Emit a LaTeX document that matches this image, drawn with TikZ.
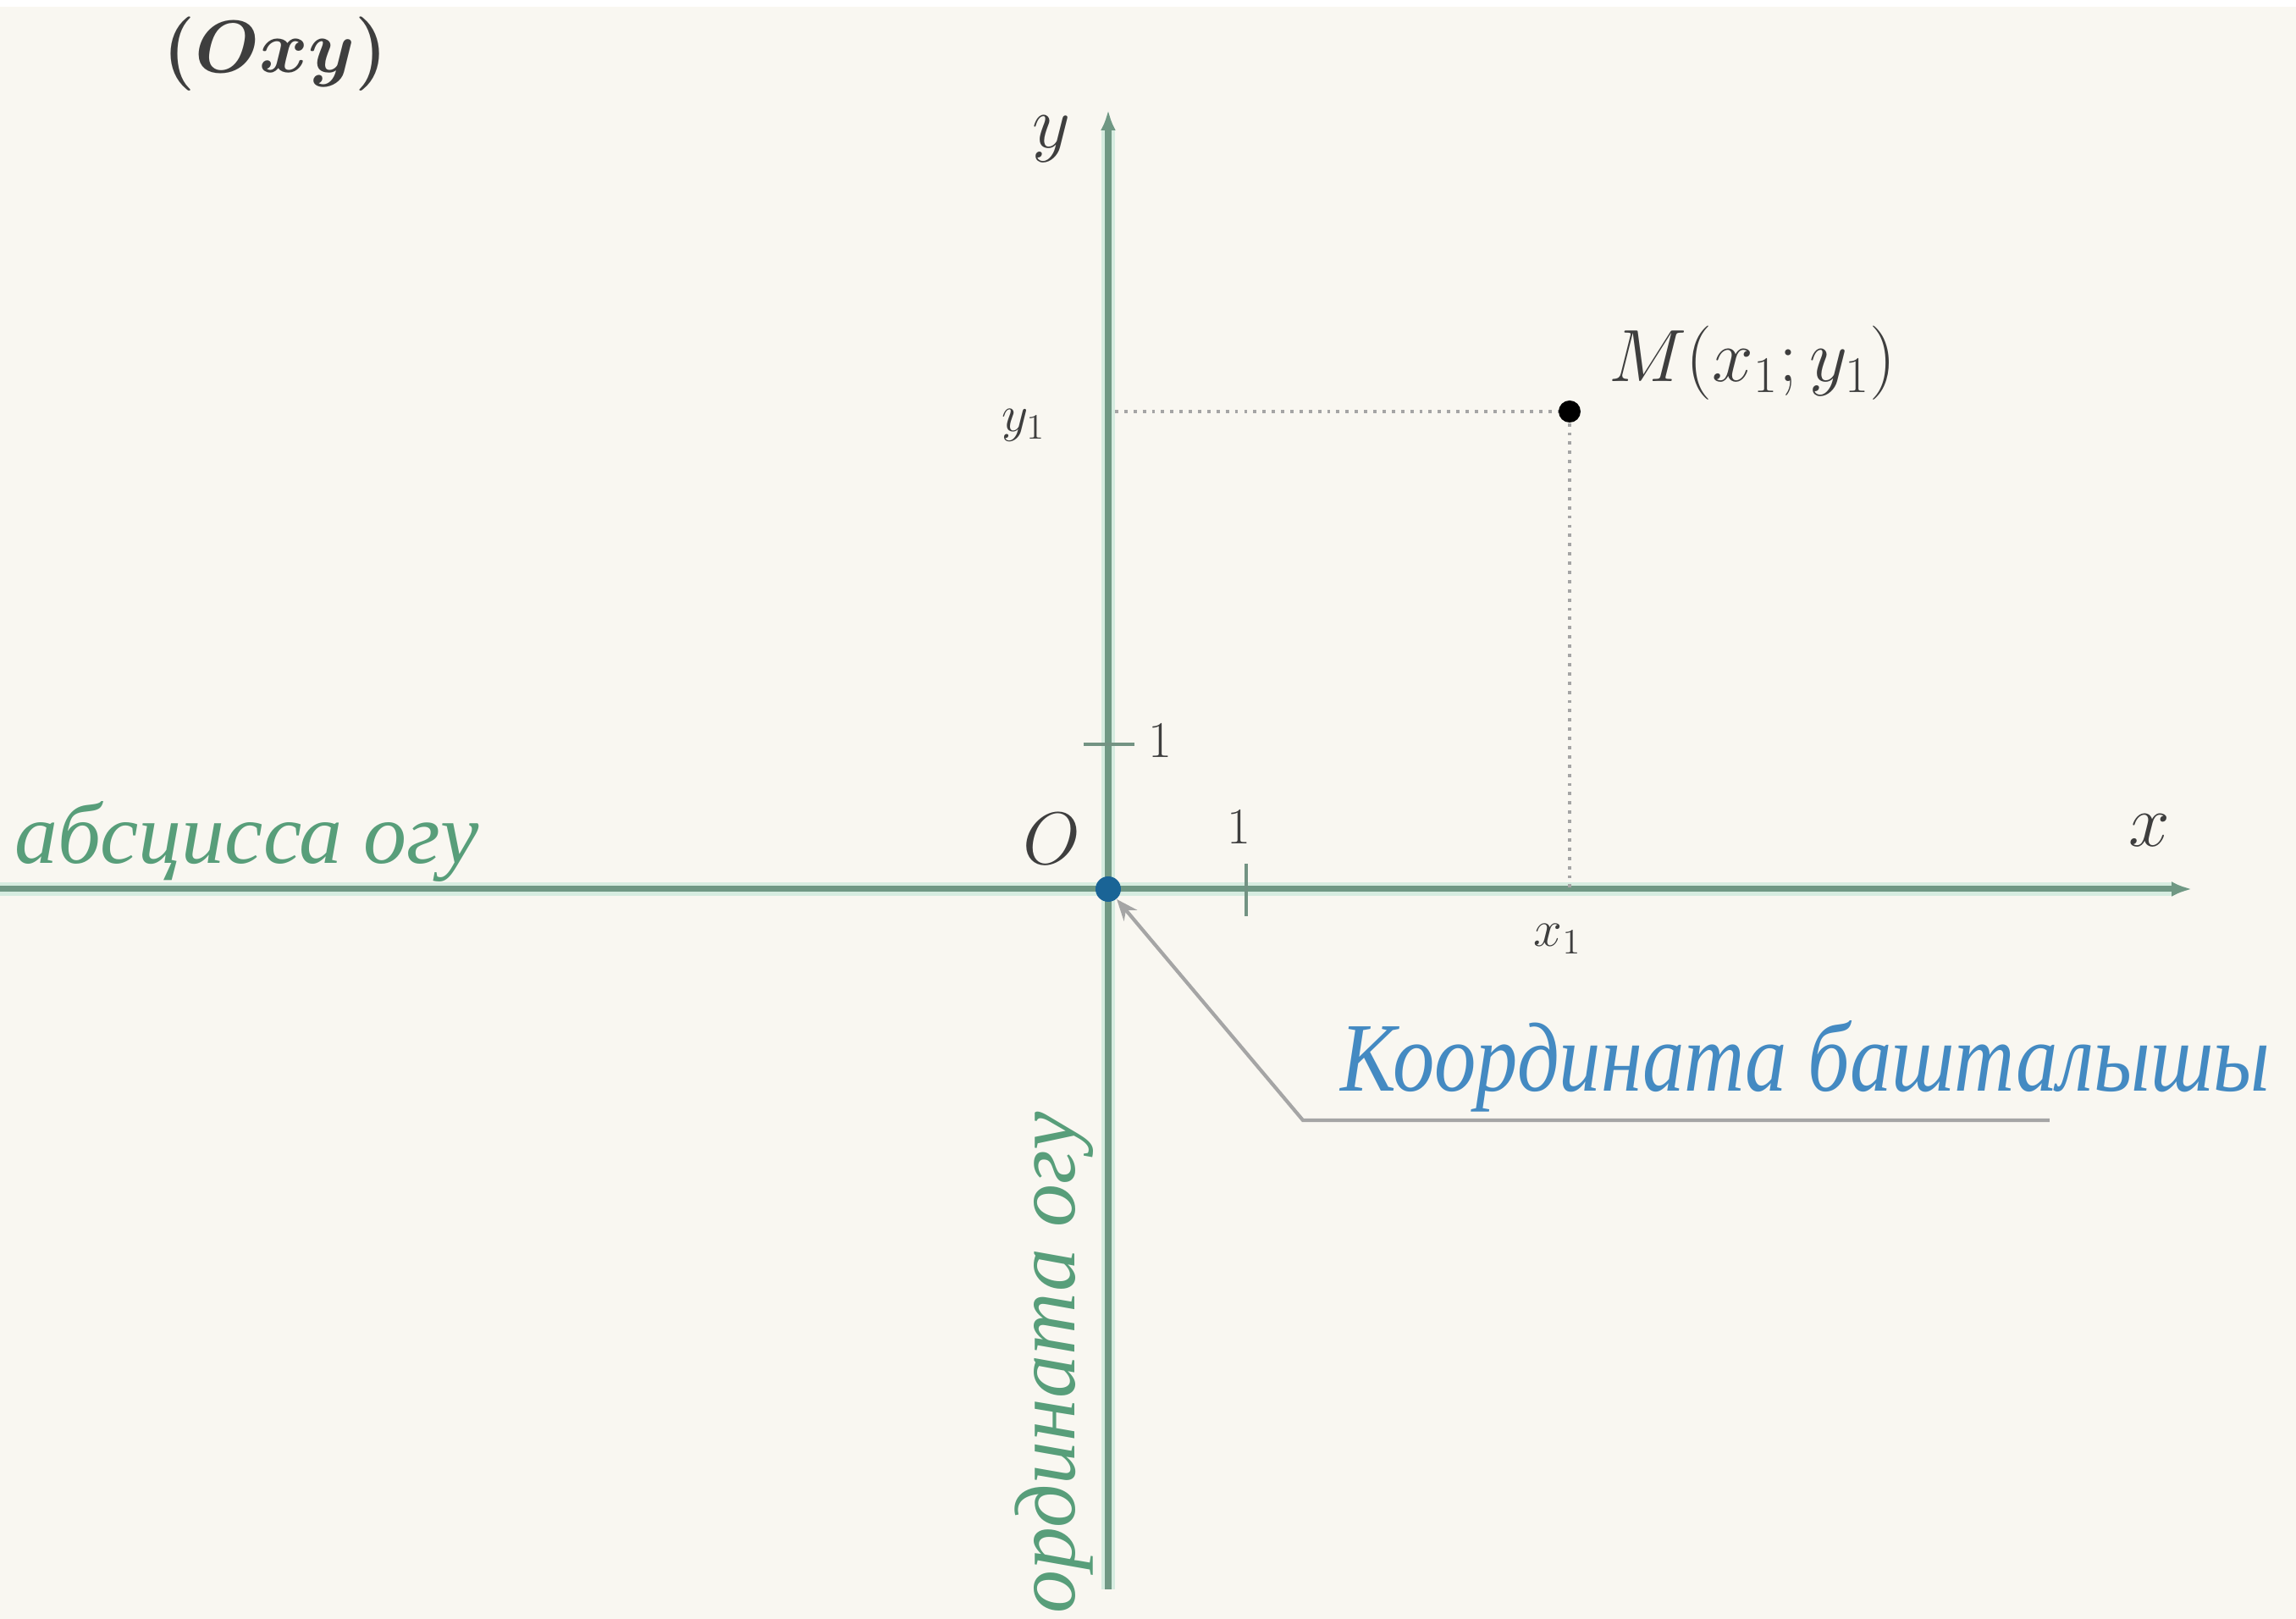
\documentclass[tikz,border=0pt]{standalone}
\usepackage{amsmath}
\usepackage{fontspec}
\setmainfont{Liberation Serif}
\usetikzlibrary{arrows.meta}

\definecolor{paper}{RGB}{249,247,241}
\definecolor{axisgreen}{RGB}{112,152,132}
\definecolor{axishalo}{RGB}{214,236,224}
\definecolor{labelgreen}{RGB}{88,158,122}
\definecolor{labelblue}{RGB}{68,138,194}
\definecolor{dotblue}{RGB}{26,100,150}
\definecolor{inkgray}{RGB}{62,62,62}
\definecolor{linegray}{RGB}{165,165,165}

\tikzset{
  axis/.style={draw=axisgreen, line width=2pt, preaction={draw=axishalo, line width=4.5pt},
    -{Latex[length=2.4mm,width=1.8mm]}},
  tick/.style={draw=axisgreen!80!gray, line width=1pt},
  guide/.style={draw=linegray, line width=1.1pt, dotted},
  pointer/.style={draw=linegray, line width=1.2pt, -{Stealth[length=2.5mm,width=2mm]}},
  lbl/.style={text=inkgray, inner sep=0pt},
  big/.style={font=\fontsize{27}{31}\selectfont},
  small/.style={font=\fontsize{18}{22}\selectfont},
  axisname/.style={text=labelgreen, inner sep=0pt, font=\fontsize{29}{34}\selectfont\itshape}
}

\begin{document}
\begin{tikzpicture}
\useasboundingbox[fill=paper] (-13.09,-8.62) rectangle (14.03,10.50);
\fill[white] (-13.09,10.42) rectangle (14.03,10.50);

% axes
\coordinate (xL) at (-13.09,0); \coordinate (xR) at (12.80,0);
\coordinate (yB) at (0,-8.27);  \coordinate (yT) at (0,9.20);
\draw[axis] (xL) -- (xR);
\draw[axis] (yB) -- (yT);

% unit ticks
\draw[tick] (1.63,-0.32) -- (1.63,0.30);
\draw[tick] (-0.29,1.71) -- (0.31,1.71);

% point M and its projections
\node[circle, fill=black, inner sep=0pt, minimum size=2.6mm] (M) at (5.45,5.64) {};
\coordinate (My) at (0.08,5.64);
\coordinate (Mx) at (5.45,0);
\draw[guide] (My) -- (M);
\draw[guide] (M) -- (Mx);

% labels
\node[lbl, big] (title) at (-9.84,9.86) {\fontsize{30}{34}\selectfont$\boldsymbol{(Oxy)}$};
\node[lbl, big] (ylab) at (-0.67,8.86) {$y$};
\node[lbl, big] (xlab) at (12.30,0.69) {$x$};
\node[lbl, big] (Olab) at (-0.67,0.59) {$O$};
\node[lbl, small] (onex) at (1.54,0.73) {$1$};
\node[lbl, small] (oney) at (0.61,1.75) {$1$};
\node[lbl, small] (y1lab) at (-1.00,5.48) {$y_1$};
\node[lbl, small] (x1lab) at (5.31,-0.59) {$x_1$};
\node[lbl, big] (Mlab) at (7.61,6.21) {$M(x_1;y_1)$};

\node[axisname, anchor=base west] (absc) at (-12.92,0.30) {абсцисса огу};
\node[axisname, anchor=base west, rotate=90] (ordn) at (-0.39,-8.56) {ордината огу};

% origin
\node[circle, fill=dotblue, inner sep=0pt, minimum size=3mm] (orig) at (0,0) {};
\coordinate (bend) at (2.30,-2.73);
\coordinate (lineEnd) at (11.12,-2.73);
\draw[pointer] (lineEnd) -- (bend) -- (orig);
\node[text=labelblue, inner sep=0pt, anchor=base west, font=\fontsize{33}{38}\selectfont\itshape] (start) at (2.74,-2.39) {\scalebox{0.85}[1]{Координата башталышы}};
\end{tikzpicture}
\end{document}
